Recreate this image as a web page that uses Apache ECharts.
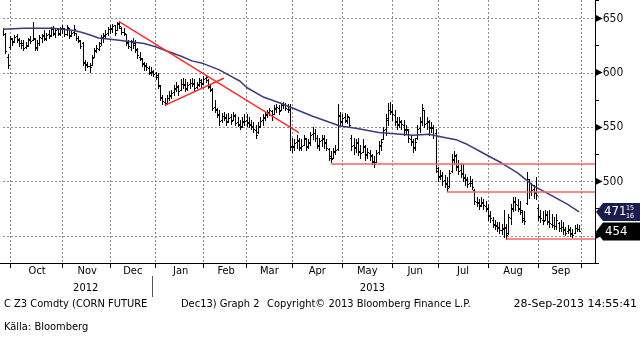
<!DOCTYPE html>
<html>
<head>
<meta charset="utf-8">
<script src="https://cdn.jsdelivr.net/npm/echarts@6.0.0/dist/echarts.min.js"></script>
<style>
html,body{margin:0;padding:0;background:#ffffff;}
#chart{width:640px;height:338px;}
</style>
</head>
<body>
<div id="chart"></div>
<script>
const FONT = "'DejaVu Sans Condensed','DejaVu Sans',sans-serif";
const WIDE = "'DejaVu Sans',sans-serif";
const NARROW = "'Liberation Sans Narrow','DejaVu Sans Condensed',sans-serif";

// trading calendar
const firstDay = '2012-09-26';
const tradingCount = 254;
const holidays = ['2012-11-22','2012-12-25','2013-01-01','2013-01-21','2013-02-18','2013-03-29','2013-05-27','2013-07-04','2013-09-02'];
const padDates = ['2013-10-01','2013-10-02','2013-10-03','2013-10-04','2013-10-07','2013-10-08','2013-10-09'];
const monthNames = ['Jan','Feb','Mar','Apr','May','Jun','Jul','Aug','Sep','Oct','Nov','Dec'];

// OHLC (Sep-2012 .. Sep-2013)
const opens = [640,636,615,
624,631,629,634,631,627,627,624,626,631,630,631,623,627,632,635,631,636,635,641,636,640,637,
641,640,636,641,635,638,637,632,629,627,609,607,606,607,615,621,622,627,632,635,637,
640,640,644,639,646,641,638,636,627,624,629,627,621,615,613,608,607,604,600,601,
600,598,589,577,573,572,577,580,582,586,588,584,590,590,585,590,591,591,587,590,592,
591,595,593,587,584,569,566,561,557,560,558,556,559,557,560,555,552,551,556,
557,555,552,550,547,546,551,557,559,562,564,565,562,568,568,566,570,571,567,566,
533,533,536,538,532,534,539,533,536,544,545,540,533,538,539,535,530,522,522,528,530,561,
555,559,556,559,540,534,532,536,527,527,532,525,526,523,518,518,527,534,539,548,558,566,
564,561,555,553,555,552,548,547,539,536,532,540,549,556,566,554,555,549,549,545,
510,505,506,501,498,496,510,521,523,513,511,507,504,501,499,499,492,481,481,478,480,477,
475,469,465,460,459,458,455,457,457,453,466,476,481,478,475,472,465,480,500,491,493,490,
476,467,465,465,469,464,461,460,459,462,457,458,456,454,455,453,453,457,456];
const highs = [641,637,617,
634,632,635,636,632,630,630,628,632,634,647,632,630,635,636,639,637,639,642,643,641,641,642,
644,641,644,641,639,644,637,634,630,628,612,610,609,616,623,626,628,635,637,639,642,
644,645,644,647,648,642,641,636,630,630,632,630,623,619,614,610,609,606,605,603,
601,600,589,580,577,580,583,584,589,592,589,594,595,594,592,594,595,594,592,595,594,
597,598,594,589,586,575,568,566,563,564,562,563,562,564,562,559,557,559,562,
562,559,557,555,552,555,559,562,564,566,568,566,570,571,570,572,573,572,571,571,
540,539,543,540,539,543,540,539,546,550,548,543,540,543,543,539,531,528,531,534,571,564,
562,563,562,559,543,540,539,540,534,539,534,531,529,525,523,529,537,539,550,562,572,573,
571,566,559,559,557,557,552,548,543,539,540,552,559,571,566,559,557,555,552,548,
513,511,509,506,504,511,525,528,525,520,517,516,507,504,505,502,493,486,484,486,484,482,
479,473,467,465,463,463,461,474,461,470,479,486,486,484,482,474,473,509,502,499,497,504,
479,474,473,474,473,474,470,467,470,463,465,463,458,460,458,456,460,461,460];
const lows = [635,618,604,
622,626,628,628,625,623,621,623,625,627,630,621,621,626,628,630,630,632,634,635,633,635,635,
637,634,635,632,634,635,630,628,623,607,603,605,601,607,615,619,621,626,628,632,635,
637,638,635,639,641,636,635,626,623,621,623,619,614,612,606,603,603,599,598,597,
594,586,575,571,570,571,575,577,580,583,580,584,586,583,584,586,588,584,586,588,586,
590,592,586,583,566,564,559,552,555,557,552,555,553,557,552,551,548,550,552,
551,550,548,546,540,545,550,552,557,559,561,557,562,564,562,566,568,566,564,529,
527,529,531,529,529,534,529,531,534,539,537,531,529,533,531,529,520,518,522,525,529,552,
552,555,554,550,529,525,527,524,522,527,520,522,520,516,513,518,525,529,539,543,552,562,
557,552,548,550,548,543,545,536,534,527,529,539,546,552,550,548,543,546,540,509,
500,502,497,495,491,495,509,516,511,507,504,500,497,495,496,493,479,477,475,477,475,473,
465,463,458,456,454,453,452,449,447,452,461,473,474,473,470,463,461,479,485,488,485,484,
465,463,461,465,461,458,458,456,456,454,454,452,451,453,450,449,453,454,454];
const closes = [636,620,607,
632,628,633,630,627,626,623,625,630,629,632,624,627,633,634,632,635,634,640,637,639,636,640,
641,636,642,634,637,640,632,630,625,610,608,606,605,614,620,623,625,633,634,636,640,
641,643,637,645,643,638,637,628,625,628,626,622,616,614,609,606,605,601,602,599,
596,588,578,574,572,577,579,581,585,587,583,590,589,586,589,591,590,586,589,593,590,
594,596,588,585,568,567,562,556,560,559,555,558,556,561,554,553,550,555,556,
554,553,551,548,543,550,556,558,561,563,566,560,567,569,565,570,571,568,567,532,
532,535,537,531,533,540,532,535,543,545,540,534,537,540,536,531,523,521,527,529,560,556,
558,557,560,552,533,531,535,528,526,533,524,527,524,519,516,526,533,536,547,557,566,565,
562,556,552,556,553,547,548,540,537,531,536,548,555,568,553,556,550,550,543,512,
504,505,500,499,494,508,520,524,514,510,508,503,502,498,500,495,482,480,477,481,478,476,
468,466,461,460,457,455,456,458,451,467,475,482,479,476,474,466,464,502,490,492,489,488,
468,466,464,470,463,462,460,459,465,457,458,455,453,456,452,451,457,456,454];

// moving average, read at sampled trading-day indices
const maIdx = [0,9,22,31,34,38,42,51,62,67,72,78,83,88,95,100,104,107,114,122,129,136,144,148,155,165,172,180,187,195,199,204,211,219,226,233,241,248,253];
const maVal = [640,641,641,639,637.5,635,632,630,627,624,620,615.5,611,608.5,602.7,597,592.5,586.5,578,572,566,560,554,551,549,545,544,542.5,543.4,540,538.5,534,526,517,508,496,487,479,472];

// drawn lines (trading-day index, price)
const trendLines = [[[51,647],[130,545]],[[71,570],[97,595]]];
const levelLines = [[144,516.3],[195,490.7],[221,447.6]];

const lastClose = 454;
const lastMA = 471.94;
const lastMAText = ['471','15','16'];
const yLabelStep = 50;
const footer = [
  ['C Z3 Comdty (CORN FUTURE', 4, 'left', FONT],
  ['Dec13) Graph 2', 181, 'left', FONT],
  ['Copyright\u00a9 2013 Bloomberg Finance L.P.', 267, 'left', FONT],
  ['28-Sep-2013 14:55:41', 637, 'right', WIDE]
];
const sourceText = 'K\u00e4lla: Bloomberg';

// ---- build
function makeDates(start, n, hol) {
  const out = [];
  const d = new Date(start + 'T00:00:00Z');
  while (out.length < n) {
    const w = d.getUTCDay();
    const s = d.toISOString().slice(0, 10);
    if (w !== 0 && w !== 6 && hol.indexOf(s) < 0) out.push(s);
    d.setUTCDate(d.getUTCDate() + 1);
  }
  return out;
}
const dates = makeDates(firstDay, tradingCount, holidays).concat(padDates);
const monthStarts = [];
for (let i = 1; i < dates.length; i++) {
  if (dates[i].slice(5, 7) !== dates[i - 1].slice(5, 7)) monthStarts.push(i);
}
const monthStartSet = new Set(monthStarts);
const labelIdx = new Set();
for (let k = 0; k < monthStarts.length - 1; k++) {
  labelIdx.add(Math.round((monthStarts[k] + monthStarts[k + 1]) / 2));
}
const ohlc = opens.map((o, i) => [i, o, highs[i], lows[i], closes[i]]);
const maData = dates.map(() => null);
maIdx.forEach((ix, k) => { maData[ix] = maVal[k]; });

function renderOHLC(params, api) {
  const i = api.value(0);
  const h = api.coord([i, api.value(2)]);
  const l = api.coord([i, api.value(3)]);
  const o = api.coord([i, api.value(1)]);
  const c = api.coord([i, api.value(4)]);
  const x = Math.round(h[0]) + 0.5;
  const st = { stroke: '#000', lineWidth: 1 };
  const oy = Math.round(o[1]) + 0.5, cy = Math.round(c[1]) + 0.5;
  return {
    type: 'group',
    children: [
      { type: 'line', shape: { x1: x, y1: Math.round(h[1]), x2: x, y2: Math.round(l[1]) + 1 }, style: st },
      { type: 'line', shape: { x1: x - 1.5, y1: oy, x2: x, y2: oy }, style: st },
      { type: 'line', shape: { x1: x, y1: cy, x2: x + 1.5, y2: cy }, style: st }
    ]
  };
}

const redData = trendLines.map(t => [
  { coord: [dates[t[0][0]], t[0][1]], lineStyle: { color: '#ff2a2a', width: 1.5, type: 'solid' } },
  { coord: [dates[t[1][0]], t[1][1]] }
]).concat(levelLines.map(l => [
  { coord: [dates[l[0]], l[1]], lineStyle: { color: '#ff6060', width: 1.5, type: 'solid' } },
  { coord: [dates[dates.length - 1], l[1]] }
]));

const chart = echarts.init(document.getElementById('chart'));
chart.setOption({
  animation: false,
  backgroundColor: '#ffffff',
  grid: { left: 3, right: 45, top: 0, bottom: 75, containLabel: false },
  xAxis: {
    type: 'category', data: dates, boundaryGap: false,
    axisLine: { show: true, lineStyle: { color: '#000', width: 1 } },
    axisTick: { show: true, interval: (i) => monthStartSet.has(i), length: 5, lineStyle: { color: '#000' } },
    axisLabel: {
      interval: (i) => labelIdx.has(i),
      formatter: (v) => monthNames[parseInt(v.slice(5, 7), 10) - 1],
      margin: 3, color: '#000', fontFamily: FONT, fontSize: 11
    },
    splitLine: { show: true, interval: (i) => monthStartSet.has(i), lineStyle: { color: '#8c8c8c', type: [2, 2], width: 1 } }
  },
  yAxis: {
    type: 'value', position: 'right', min: 425, max: 667, interval: 25, scale: true,
    axisLine: { show: true, lineStyle: { color: '#000', width: 1 } },
    axisTick: { show: true, length: 4, lineStyle: { color: '#000' } },
    axisLabel: {
      margin: 0,
      formatter: (v) => (v % yLabelStep === 0 ? '{t|\u25B6}{v|' + v + '}' : ''),
      rich: {
        t: { fontSize: 10, color: '#000', fontFamily: 'DejaVu Sans', padding: [0, 0, 0, 0] },
        v: { fontSize: 12, color: '#111', fontFamily: FONT }
      }
    },
    splitLine: { show: true, lineStyle: { color: ['rgba(0,0,0,0)', '#8c8c8c'], type: [2, 2], width: 1 } }
  },
  series: [
    {
      type: 'custom', name: 'OHLC', renderItem: renderOHLC, data: ohlc,
      encode: { x: 0, y: [1, 2, 3, 4] }, z: 3, clip: true
    },
    {
      type: 'line', name: 'MA', data: maData, connectNulls: true, showSymbol: false, symbol: 'none',
      smooth: false, lineStyle: { color: '#3b3b7c', width: 1.5 }, z: 4,
      markLine: { silent: true, symbol: ['none', 'none'], label: { show: false }, data: redData, z: 5 }
    }
  ]
});

// annotations placed through the chart's scales
const yMA = chart.convertToPixel({ yAxisIndex: 0 }, lastMA);
const yLC = chart.convertToPixel({ yAxisIndex: 0 }, lastClose);
const xJan = chart.convertToPixel({ xAxisIndex: 0 }, dates[monthStarts[3]]);
const xOct12 = chart.convertToPixel({ xAxisIndex: 0 }, dates[monthStarts[0]]);
const xOct13 = chart.convertToPixel({ xAxisIndex: 0 }, dates[monthStarts[monthStarts.length - 1]]);
const axisBottom = chart.convertToPixel({ yAxisIndex: 0 }, 425);

function tag(y, fill) {
  return {
    type: 'polygon', z: 100,
    shape: { points: [[596, y], [603, y - 9], [640, y - 9], [640, y + 9], [603, y + 9]] },
    style: { fill: fill }
  };
}
const g = [
  { type: 'line', shape: { x1: 0, y1: axisBottom + 0.5, x2: 4, y2: axisBottom + 0.5 }, style: { stroke: '#000', lineWidth: 1 } },
  tag(yLC, '#000000'),
  tag(yMA, '#1c1c4c'),
  { type: 'text', z: 101, x: 605, y: yLC, style: { text: String(lastClose), fill: '#fff', font: '13px ' + FONT, textVerticalAlign: 'middle' } },
  { type: 'text', z: 101, x: 604, y: yMA, style: { text: lastMAText[0], fill: '#fff', font: '13px ' + FONT, textVerticalAlign: 'middle' } },
  { type: 'text', z: 101, x: 626, y: yMA - 4, style: { text: lastMAText[1], fill: '#fff', font: '7px ' + FONT, textVerticalAlign: 'middle' } },
  { type: 'text', z: 101, x: 626, y: yMA + 4, style: { text: lastMAText[2], fill: '#fff', font: '7px ' + FONT, textVerticalAlign: 'middle' } },
  { type: 'text', x: (xOct12 + xJan) / 2 + 3, y: 288, style: { text: '2012', fill: '#000', font: '11px ' + FONT, textAlign: 'center', textVerticalAlign: 'middle' } },
  { type: 'text', x: (xJan + xOct13) / 2 + 4, y: 288, style: { text: '2013', fill: '#000', font: '11px ' + FONT, textAlign: 'center', textVerticalAlign: 'middle' } },
  { type: 'line', shape: { x1: Math.round(xJan) - 3.5, y1: 276, x2: Math.round(xJan) - 3.5, y2: 297 }, style: { stroke: '#555', lineWidth: 1 } },
  { type: 'text', x: 4, y: 327, style: { text: sourceText, fill: '#000', font: '11px ' + NARROW, textVerticalAlign: 'middle' } }
];
footer.forEach(f => g.push({ type: 'text', x: f[1], y: 304, style: { text: f[0], fill: '#000', font: '11px ' + f[3], textAlign: f[2], textVerticalAlign: 'middle' } }));
chart.setOption({ graphic: g });
</script>
</body>
</html>
